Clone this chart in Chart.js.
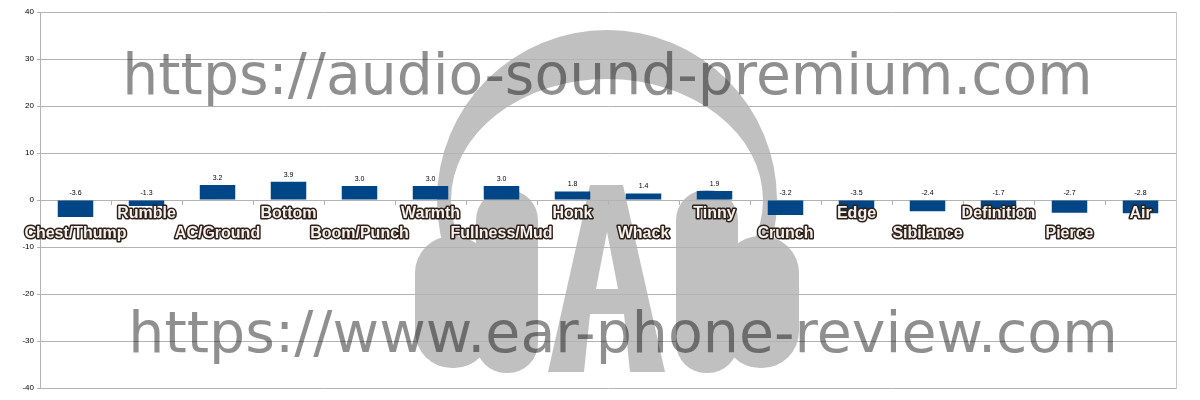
<!DOCTYPE html>
<html>
<head>
<meta charset="utf-8">
<script src="https://cdn.jsdelivr.net/npm/chart.js@4"></script>
<style>
  html, body { margin: 0; padding: 0; background: #fff; }
  #wrap { width: 1200px; height: 400px; }
</style>
</head>
<body>
<div id="wrap"><canvas id="freqChart"></canvas></div>
<script>
const categories = ['Chest/Thump', 'Rumble', 'AC/Ground', 'Bottom', 'Boom/Punch', 'Warmth', 'Fullness/Mud', 'Honk',
    'Whack', 'Tinny', 'Crunch', 'Edge', 'Sibilance', 'Definition', 'Pierce', 'Air'];
const deviation = [-3.6, -1.3, 3.2, 3.9, 3.0, 3.0, 3.0, 1.8, 1.4, 1.9, -3.2, -3.5, -2.4, -1.7, -2.7, -2.8];
const yTicks = [-40, -30, -20, -10, 0, 10, 20, 30, 40];
const watermarks = ['https://audio-sound-premium.com', 'https://www.ear-phone-review.com'];

// headphone logo behind the plot
const logoPlugin = {
    id: 'logo',
    beforeDraw(chart) {
        const ctx = chart.ctx;
        ctx.save();
        ctx.fillStyle = '#c0c0c0';
        // head band: circle minus inner ellipse, cut off below
        ctx.save();
        ctx.beginPath();
        ctx.rect(0, 0, 1200, 245);
        ctx.clip();
        ctx.beginPath();
        ctx.arc(607, 200, 170, 0, Math.PI * 2);
        ctx.ellipse(607, 200, 156, 121, 0, 0, Math.PI * 2);
        ctx.fill('evenodd');
        ctx.restore();
        // ear cups
        const cup = (x, y, w, h, r) => { ctx.beginPath(); ctx.roundRect(x, y, w, h, r); ctx.fill(); };
        cup(476, 190, 62, 183, 30);
        cup(415, 236, 76, 132, 37);
        cup(676, 190, 62, 183, 30);
        cup(723, 236, 76, 132, 37);
        // the "A"
        ctx.beginPath();
        ctx.moveTo(590, 185); ctx.lineTo(623, 185); ctx.lineTo(665, 372); ctx.lineTo(630, 372);
        ctx.lineTo(624, 314); ctx.lineTo(590, 314); ctx.lineTo(584, 372); ctx.lineTo(548, 372);
        ctx.closePath();
        ctx.moveTo(607, 232); ctx.lineTo(618, 289); ctx.lineTo(596, 289); ctx.closePath();
        ctx.fill('evenodd');
        ctx.restore();
    }
};

// value labels, staggered category names, url watermarks
const labelPlugin = {
    id: 'labels',
    afterDatasetsDraw(chart) {
        const ctx = chart.ctx;
        const xs = chart.scales.x, ys = chart.scales.y;
        const zero = ys.getPixelForValue(0);
        ctx.save();
        ctx.textAlign = 'center';
        ctx.textBaseline = 'middle';
        ctx.font = '7px "Liberation Sans"';
        ctx.fillStyle = '#000';
        deviation.forEach((v, i) => {
            ctx.fillText(v.toFixed(1), xs.getPixelForValue(i), ys.getPixelForValue(Math.max(v, 0)) - 7);
        });
        ctx.font = 'bold 16px "Liberation Sans"';
        ctx.lineJoin = 'round';
        ctx.lineWidth = 3;
        ctx.strokeStyle = '#2e2018';
        ctx.fillStyle = '#f4f1ee';
        categories.forEach((c, i) => {
            const x = xs.getPixelForValue(i);
            const y = zero + (i % 2 ? 14 : 34);
            ctx.strokeText(c, x, y);
            ctx.fillText(c, x, y);
        });
        ctx.restore();
    },
    afterDraw(chart) {
        const ctx = chart.ctx;
        ctx.save();
        ctx.fillStyle = 'rgba(0,0,0,0.44)';
        ctx.textAlign = 'center';
        ctx.textBaseline = 'alphabetic';
        const spots = [[607.5, 94, 971], [623, 352, 990]];
        watermarks.forEach((t, i) => {
            ctx.font = '58px "DejaVu Sans"';
            const w = ctx.measureText(t).width;
            const size = 58 * spots[i][2] / w;
            ctx.font = size.toFixed(1) + 'px "DejaVu Sans"';
            ctx.fillText(t, spots[i][0], spots[i][1]);
        });
        ctx.restore();
    }
};

new Chart(document.getElementById('freqChart'), {
    type: 'bar',
    data: {
        labels: categories,
        datasets: [{
            data: deviation,
            backgroundColor: '#004586',
            borderWidth: 0,
            categoryPercentage: 1,
            barPercentage: 0.5
        }]
    },
    options: {
        responsive: true,
        maintainAspectRatio: false,
        animation: false,
        layout: { padding: { left: 0, right: 24, top: 12, bottom: 12 } },
        plugins: { legend: { display: false }, tooltip: { enabled: false } },
        scales: {
            x: {
                position: { y: 0 },
                grid: { drawOnChartArea: false, color: '#b3b3b3', tickLength: 4, offset: true },
                border: { color: '#b3b3b3' },
                ticks: { display: false }
            },
            y: {
                min: -40,
                max: 40,
                afterBuildTicks: scale => { scale.ticks = yTicks.map(v => ({ value: v })); },
                afterFit: scale => { scale.width = 40; },
                grid: { color: '#b3b3b3', tickLength: 3 },
                border: { color: '#b3b3b3' },
                ticks: { font: { size: 8, family: '"Liberation Sans"' }, color: '#000', padding: 3 }
            },
            y2: {
                position: 'right',
                min: -40, max: 40,
                afterFit: scale => { scale.width = 0; },
                grid: { display: false },
                border: { color: '#c8c8c8' },
                ticks: { display: false }
            }
        }
    },
    plugins: [logoPlugin, labelPlugin]
});
</script>
</body>
</html>
